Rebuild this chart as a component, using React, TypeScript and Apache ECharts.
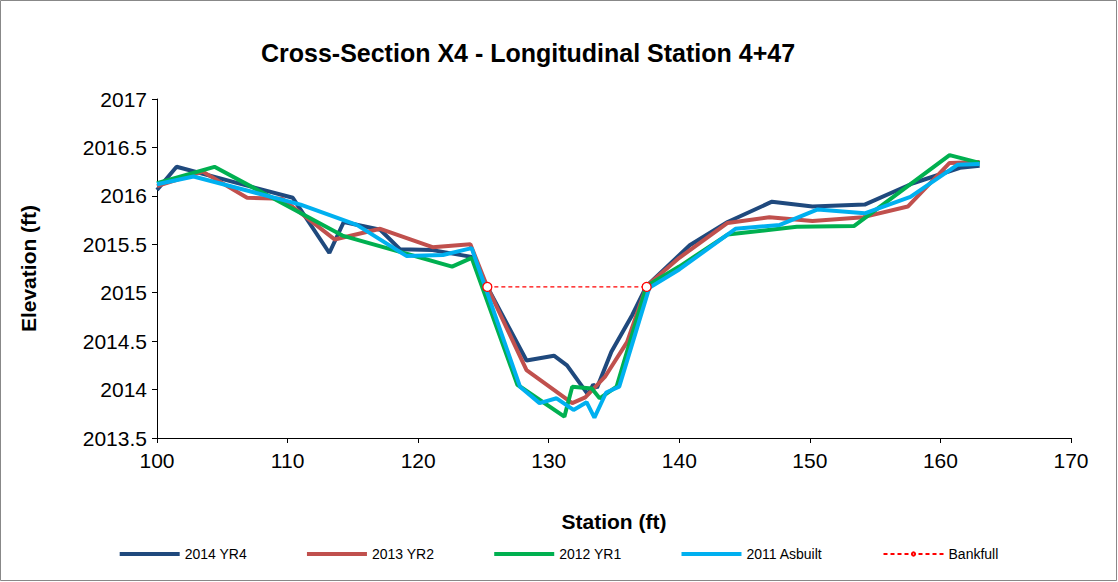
import { useEffect, useRef } from "react";
import * as echarts from "echarts";

const yr4 = [
  [100, 2016.06], [101.5, 2016.3], [110.4, 2015.98], [113.2, 2015.41], [114.3, 2015.73],
  [117.1, 2015.65], [118.6, 2015.45], [121.1, 2015.44], [124.1, 2015.37], [125.3, 2015.06],
  [128.3, 2014.3], [130.4, 2014.35], [131.4, 2014.25], [133.0, 2013.95], [133.4, 2014.05],
  [133.7, 2014.02], [134.8, 2014.39], [136.4, 2014.77], [137.5, 2015.07], [140.8, 2015.49],
  [143.7, 2015.73], [147.1, 2015.94], [150.2, 2015.89], [154.2, 2015.91], [157.9, 2016.13],
  [161.5, 2016.29], [163.0, 2016.31],
];
const yr2 = [
  [100, 2016.1], [103.5, 2016.25], [106.9, 2015.98], [109.6, 2015.97], [113.6, 2015.55],
  [117.1, 2015.66], [121.1, 2015.47], [124.0, 2015.5], [125.3, 2015.06], [128.3, 2014.2],
  [131.8, 2013.86], [132.8, 2013.92], [134.3, 2014.13], [136.0, 2014.49], [137.5, 2015.07],
  [140.0, 2015.36], [143.7, 2015.72], [146.9, 2015.78], [150.2, 2015.74], [154.1, 2015.78],
  [157.5, 2015.89], [160.7, 2016.34], [163.0, 2016.35],
];
const yr1 = [
  [100, 2016.13], [104.4, 2016.3], [114.2, 2015.59], [122.6, 2015.27], [124.1, 2015.36],
  [127.6, 2014.05], [131.2, 2013.72], [131.8, 2014.03], [133.3, 2014.01], [133.9, 2013.91],
  [135.2, 2014.03], [137.5, 2015.07], [140.0, 2015.27], [143.7, 2015.6], [149.0, 2015.68],
  [153.4, 2015.69], [160.7, 2016.42], [163.0, 2016.34],
];
const asbuilt = [
  [100, 2016.12], [102.8, 2016.2], [111.0, 2015.91], [115.3, 2015.7], [119.1, 2015.38],
  [121.9, 2015.39], [124.1, 2015.46], [127.8, 2014.03], [129.3, 2013.86], [130.6, 2013.91],
  [131.9, 2013.79], [132.9, 2013.87], [133.5, 2013.71], [134.4, 2013.97], [135.4, 2014.03],
  [137.7, 2015.05], [140.0, 2015.24], [144.3, 2015.66], [147.7, 2015.7], [150.6, 2015.86],
  [154.2, 2015.82], [157.7, 2015.99], [161.3, 2016.32], [163.0, 2016.33],
];
const bankfull = [[125.3, 2015.06], [137.5, 2015.06]];

const FONT = "Liberation Sans, Arial, sans-serif";

function line(name: string, data: number[][], color: string) {
  return {
    name, type: "line", data, symbol: "none",
    lineStyle: { color, width: 4 }, itemStyle: { color },
  };
}

export default function App() {
  const ref = useRef<HTMLDivElement>(null);

  useEffect(() => {
    const chart = echarts.init(ref.current, null, { renderer: "svg" });
    chart.setOption({
      animation: false,
      backgroundColor: "#fff",
      title: {
        text: "Cross-Section X4 - Longitudinal Station 4+47",
        left: 523, top: 35, textAlign: "center",
        textStyle: { fontFamily: FONT, fontSize: 25, fontWeight: "bold", color: "#000" },
      },
      grid: { left: 157, right: 47, top: 99, bottom: 144 },
      legend: {
        bottom: 16, left: "center", itemWidth: 60, itemHeight: 4, itemGap: 60,
        textStyle: { fontFamily: FONT, fontSize: 14, color: "#000" },
        data: [
          { name: "2014 YR4", icon: "rect" },
          { name: "2013 YR2", icon: "rect" },
          { name: "2012 YR1", icon: "rect" },
          { name: "2011 Asbuilt", icon: "rect" },
          { name: "Bankfull" },
        ],
      },
      xAxis: {
        type: "value", min: 100, max: 170, interval: 10,
        name: "Station (ft)", nameLocation: "middle", nameGap: 73,
        nameTextStyle: { fontFamily: FONT, fontSize: 21, fontWeight: "bold", color: "#000" },
        axisLine: { lineStyle: { color: "#000" } },
        axisTick: { length: 5, lineStyle: { color: "#000" } },
        axisLabel: { fontFamily: FONT, fontSize: 21, color: "#000", margin: 12 },
        splitLine: { show: false },
      },
      yAxis: {
        type: "value", min: 2013.5, max: 2017, interval: 0.5,
        name: "Elevation (ft)", nameLocation: "middle", nameGap: 118,
        nameTextStyle: { fontFamily: FONT, fontSize: 21, fontWeight: "bold", color: "#000" },
        axisLine: { show: true, lineStyle: { color: "#000" } },
        axisTick: { show: true, length: 5, lineStyle: { color: "#000" } },
        axisLabel: { fontFamily: FONT, fontSize: 21, color: "#000", margin: 10, formatter: (v: number) => String(v) },
        splitLine: { show: false },
      },
      graphic: [{
        type: "rect", shape: { x: 0.5, y: 0.5, width: 1116, height: 580 },
        style: { fill: "none", stroke: "#888", lineWidth: 1 }, silent: true,
      }],
      series: [
        line("2014 YR4", yr4, "#1f497d"),
        line("2013 YR2", yr2, "#c0504d"),
        line("2012 YR1", yr1, "#00b050"),
        line("2011 Asbuilt", asbuilt, "#00b0f0"),
        {
          name: "Bankfull", type: "line", data: bankfull,
          symbol: "circle", symbolSize: 9,
          lineStyle: { color: "#ff0000", width: 1.3, type: [4, 3] },
          itemStyle: { color: "#fff", borderColor: "#ff0000", borderWidth: 1.3 },
          z: 5,
        },
      ],
    });
    return () => chart.dispose();
  }, []);

  return <div ref={ref} style={{ width: 1118, height: 582, position: "absolute", left: 0, top: 0 }} />;
}
